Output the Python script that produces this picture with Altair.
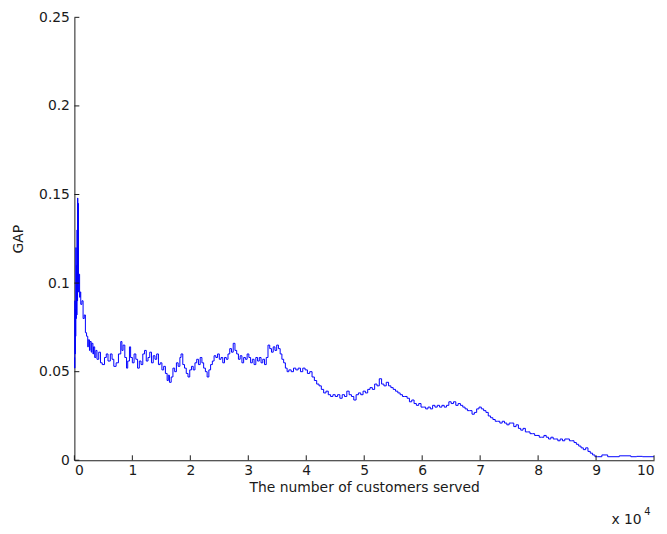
import altair as alt
import pandas as pd

# customers served, in units of 10^4
customers_x1e4 = [
    0.000, 0.005, 0.008, 0.012, 0.016, 0.020, 0.025, 0.030, 0.035, 0.040, 0.045, 0.050, 0.055, 0.060, 0.065, 0.070,
    0.080, 0.090, 0.100, 0.110, 0.130, 0.150, 0.170, 0.190, 0.210, 0.230, 0.240, 0.260, 0.270, 0.290, 0.300, 0.320,
    0.330, 0.350, 0.370, 0.390, 0.420, 0.450, 0.480, 0.520, 0.550, 0.580, 0.620, 0.650, 0.680, 0.720, 0.760, 0.800,
    0.820, 0.840, 0.870, 0.900, 0.920, 0.950, 0.970, 1.000, 1.030, 1.060, 1.090, 1.120, 1.150, 1.180, 1.210, 1.240,
    1.270, 1.300, 1.330, 1.360, 1.390, 1.420, 1.450, 1.480, 1.510, 1.540, 1.570, 1.600, 1.620, 1.640, 1.670, 1.700,
    1.730, 1.760, 1.790, 1.820, 1.840, 1.870, 1.900, 1.930, 1.960, 1.990, 2.020, 2.050, 2.080, 2.110, 2.140, 2.170,
    2.200, 2.230, 2.260, 2.290, 2.320, 2.350, 2.380, 2.410, 2.440, 2.470, 2.500, 2.530, 2.560, 2.590, 2.620, 2.650,
    2.680, 2.710, 2.740, 2.770, 2.800, 2.830, 2.860, 2.890, 2.920, 2.950, 2.980, 3.010, 3.040, 3.070, 3.100, 3.130,
    3.160, 3.190, 3.220, 3.250, 3.280, 3.310, 3.340, 3.370, 3.400, 3.430, 3.460, 3.490, 3.520, 3.550, 3.580, 3.610,
    3.640, 3.670, 3.700, 3.740, 3.780, 3.820, 3.860, 3.900, 3.940, 3.980, 4.020, 4.060, 4.100, 4.140, 4.180, 4.220,
    4.260, 4.300, 4.340, 4.380, 4.420, 4.460, 4.500, 4.540, 4.580, 4.620, 4.660, 4.700, 4.740, 4.780, 4.820, 4.860,
    4.900, 4.940, 4.980, 5.020, 5.060, 5.100, 5.140, 5.180, 5.220, 5.260, 5.300, 5.340, 5.380, 5.420, 5.460, 5.500,
    5.540, 5.580, 5.620, 5.660, 5.700, 5.740, 5.780, 5.820, 5.860, 5.900, 5.940, 5.980, 6.020, 6.060, 6.100, 6.140,
    6.180, 6.220, 6.260, 6.300, 6.340, 6.380, 6.420, 6.460, 6.500, 6.540, 6.580, 6.620, 6.660, 6.700, 6.740, 6.780,
    6.820, 6.860, 6.900, 6.940, 6.980, 7.020, 7.060, 7.100, 7.140, 7.180, 7.220, 7.260, 7.300, 7.340, 7.380, 7.420,
    7.460, 7.500, 7.540, 7.580, 7.620, 7.660, 7.700, 7.740, 7.780, 7.820, 7.860, 7.900, 7.940, 7.980, 8.020, 8.060,
    8.100, 8.140, 8.180, 8.220, 8.260, 8.300, 8.340, 8.380, 8.420, 8.460, 8.500, 8.540, 8.580, 8.620, 8.660, 8.700,
    8.740, 8.780, 8.820, 8.860, 8.900, 8.940, 8.980, 9.020, 9.100, 9.200, 9.400, 9.600, 9.700, 9.800, 10.000,
]

gap = [
    0.058, 0.052, 0.090, 0.060, 0.085, 0.070, 0.120, 0.080, 0.110, 0.082, 0.130, 0.090, 0.148, 0.100, 0.145, 0.095,
    0.105, 0.092, 0.095, 0.088, 0.090, 0.080, 0.082, 0.072, 0.070, 0.064, 0.068, 0.062, 0.067, 0.061, 0.066, 0.060,
    0.064, 0.058, 0.062, 0.057, 0.061, 0.055, 0.054, 0.058, 0.060, 0.056, 0.060, 0.057, 0.053, 0.055, 0.060, 0.067,
    0.062, 0.065, 0.058, 0.052, 0.056, 0.064, 0.058, 0.055, 0.060, 0.057, 0.052, 0.056, 0.054, 0.060, 0.062, 0.056,
    0.058, 0.061, 0.055, 0.059, 0.057, 0.060, 0.054, 0.055, 0.051, 0.053, 0.049, 0.045, 0.048, 0.044, 0.047, 0.052,
    0.050, 0.055, 0.053, 0.058, 0.060, 0.054, 0.052, 0.049, 0.047, 0.051, 0.053, 0.051, 0.055, 0.057, 0.054, 0.058,
    0.055, 0.052, 0.050, 0.047, 0.051, 0.054, 0.056, 0.059, 0.058, 0.060, 0.057, 0.058, 0.055, 0.058, 0.057, 0.060,
    0.063, 0.061, 0.066, 0.062, 0.060, 0.057, 0.059, 0.055, 0.058, 0.057, 0.060, 0.058, 0.055, 0.057, 0.054, 0.058,
    0.056, 0.058, 0.055, 0.057, 0.054, 0.058, 0.065, 0.063, 0.061, 0.064, 0.062, 0.065, 0.063, 0.060, 0.057, 0.055,
    0.052, 0.050, 0.051, 0.050, 0.052, 0.051, 0.052, 0.050, 0.052, 0.051, 0.049, 0.050, 0.047, 0.045, 0.043, 0.042,
    0.040, 0.038, 0.039, 0.037, 0.036, 0.037, 0.036, 0.037, 0.035, 0.037, 0.036, 0.039, 0.037, 0.036, 0.034, 0.037,
    0.038, 0.037, 0.039, 0.038, 0.040, 0.041, 0.040, 0.043, 0.042, 0.046, 0.043, 0.042, 0.044, 0.042, 0.041, 0.040,
    0.039, 0.038, 0.037, 0.036, 0.036, 0.035, 0.033, 0.034, 0.032, 0.031, 0.032, 0.030, 0.030, 0.029, 0.030, 0.029,
    0.031, 0.030, 0.031, 0.030, 0.031, 0.030, 0.031, 0.033, 0.032, 0.033, 0.031, 0.032, 0.031, 0.030, 0.029, 0.028,
    0.028, 0.026, 0.027, 0.029, 0.030, 0.029, 0.028, 0.027, 0.025, 0.024, 0.023, 0.022, 0.022, 0.021, 0.022, 0.021,
    0.020, 0.021, 0.021, 0.019, 0.020, 0.018, 0.017, 0.018, 0.016, 0.016, 0.015, 0.015, 0.014, 0.014, 0.013, 0.013,
    0.014, 0.013, 0.012, 0.013, 0.012, 0.012, 0.011, 0.012, 0.011, 0.012, 0.012, 0.011, 0.011, 0.010, 0.009, 0.008,
    0.007, 0.006, 0.007, 0.005, 0.004, 0.003, 0.002, 0.002, 0.003, 0.002, 0.0025, 0.002, 0.0022, 0.002, 0.002,
]

x_ticks = [0, 1, 2, 3, 4, 5, 6, 7, 8, 9, 10]
y_ticks = [0, 0.05, 0.1, 0.15, 0.2, 0.25]
x_title = "The number of customers served"
y_title = "GAP"
exp_base = ["x 10"]
exp_power = ["4"]

W, H = 585, 447
FONT = "DejaVu Sans"
INK = "#1a1a1a"

df = pd.DataFrame({"customers": [v * 10000 for v in customers_x1e4], "gap": gap})
xt = pd.DataFrame({"customers": [t * 10000 for t in x_ticks]})
yt = pd.DataFrame({"gap": y_ticks})

xs = alt.Scale(domain=[0, 100000], nice=False, zero=False)
ys = alt.Scale(domain=[0, 0.25], nice=False)

x_axis = alt.Axis(
    values=[t * 10000 for t in x_ticks], labelExpr="format(datum.value / 10000, 'd')",
    title=x_title, tickSize=0, labelPadding=3, titlePadding=4, grid=False,
)
y_axis = alt.Axis(
    values=y_ticks, format="~g", title=y_title, tickSize=0, labelPadding=5,
    titlePadding=13, grid=False,
)

line = alt.Chart(df).mark_line(color="#0000ff", strokeWidth=1, interpolate="step-after").encode(
    x=alt.X("customers:Q", scale=xs, axis=x_axis),
    y=alt.Y("gap:Q", scale=ys, axis=y_axis),
)

xtick_marks = alt.Chart(xt).mark_rule(color=INK, strokeWidth=1).encode(
    x=alt.X("customers:Q", scale=xs),
    y=alt.value(H),
    y2=alt.value(H - 5),
)
ytick_marks = alt.Chart(yt).mark_rule(color=INK, strokeWidth=1).encode(
    y=alt.Y("gap:Q", scale=ys),
    x=alt.value(0),
    x2=alt.value(5),
)

base_txt = alt.Chart(pd.DataFrame({"t": exp_base})).mark_text(
    font=FONT, fontSize=14, color=INK, align="left", baseline="alphabetic"
).encode(text="t:N", x=alt.value(542), y=alt.value(511))
pow_txt = alt.Chart(pd.DataFrame({"t": exp_power})).mark_text(
    font=FONT, fontSize=10, color=INK, align="left", baseline="alphabetic"
).encode(text="t:N", x=alt.value(575), y=alt.value(502))

chart = alt.layer(line, xtick_marks, ytick_marks, base_txt, pow_txt).properties(
    width=W, height=H,
    autosize=alt.AutoSizeParams(type="none"),
    padding={"left": 67, "top": 7, "right": 5, "bottom": 72},
).configure_view(stroke=None).configure_axis(
    domainColor=INK, domainWidth=1, labelFont=FONT, titleFont=FONT,
    labelFontSize=14, titleFontSize=14, labelColor=INK, titleColor=INK,
    titleFontWeight="normal",
)

chart.save("out.html", embed_options={"renderer": "svg", "actions": False})
